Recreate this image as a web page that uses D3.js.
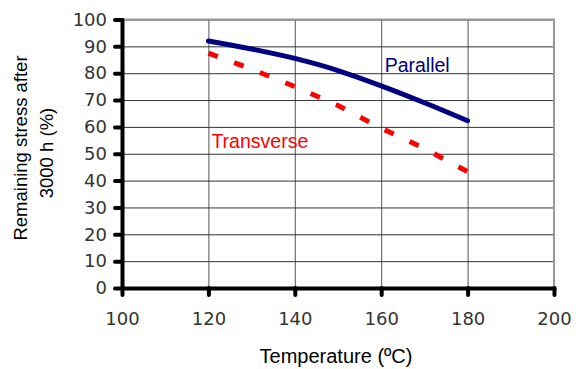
<!DOCTYPE html>
<html>
<head>
<meta charset="utf-8">
<script src="https://cdn.jsdelivr.net/npm/d3@7"></script>
<style>
  body { margin: 0; background: #fff; }
  svg { display: block; }
</style>
</head>
<body>
<div id="chart-area"></div>
<script>
// data
const temps = [120, 130, 140, 150, 160, 170, 180]
const parallel = [92, 89, 85.5, 81, 75.3, 69, 62.3]
const transverse = [87.5, 81.5, 75, 68, 59.5, 52, 43.3]
const xTicks = [100, 120, 140, 160, 180, 200]
const yTicks = [0, 10, 20, 30, 40, 50, 60, 70, 80, 90, 100]

const margin = { left: 122, right: 30, top: 19.5, bottom: 81 }
const width = 584 - margin.left - margin.right
const height = 369 - margin.top - margin.bottom

const svg = d3.select('#chart-area')
              .append('svg')
              .attr('width', 584)
              .attr('height', 369)

const g = svg.append('g')
             .attr('transform', 'translate(' + margin.left + ', ' + margin.top + ')')

// X Scale
const x = d3.scaleLinear()
            .domain([100, 200])
            .range([0, width])

// Y Scale
const y = d3.scaleLinear()
            .domain([0, 100])
            .range([height, 0])

// Grid
const xGrid = g.append('g')
               .attr('class', 'x-grid')
               .attr('transform', 'translate(0,' + height + ')')
               .call(d3.axisBottom(x).tickValues(xTicks.slice(1, -1)).tickSize(-height).tickFormat(''))
xGrid.select('.domain').remove()
xGrid.selectAll('line').attr('stroke', '#555').attr('stroke-width', 1)

const yGrid = g.append('g')
               .attr('class', 'y-grid')
               .call(d3.axisLeft(y).tickValues(yTicks.slice(1)).tickSize(-width).tickFormat(''))
yGrid.select('.domain').remove()
yGrid.selectAll('line').attr('stroke', '#333').attr('stroke-width', 1)

// plot border (top/right)
g.append('path')
 .attr('d', 'M0,' + y(100) + 'H' + x(200) + 'V' + y(0))
 .attr('fill', 'none')
 .attr('stroke', '#999')
 .attr('stroke-width', 2)

// Lines
const line = d3.line()
               .x((d, i) => x(temps[i]))
               .y(d => y(d))

g.append('path')
 .datum(transverse)
 .attr('d', line)
 .attr('fill', 'none')
 .attr('stroke', '#ff0000')
 .attr('stroke-width', 5)
 .attr('stroke-dasharray', '10,17.5')

g.append('path')
 .datum(parallel)
 .attr('d', line.curve(d3.curveCatmullRom))
 .attr('fill', 'none')
 .attr('stroke', '#000080')
 .attr('stroke-width', 5)
 .attr('stroke-linecap', 'round')
 .attr('stroke-linejoin', 'round')

// Axes
const xAxisGroup = g.append('g')
                    .attr('class', 'x-axis')
                    .attr('transform', 'translate(0,' + height + ')')
                    .call(d3.axisBottom(x).tickValues(xTicks).tickSize(7).tickSizeOuter(0).tickPadding(17))

const yAxisGroup = g.append('g')
                    .attr('class', 'y-axis')
                    .call(d3.axisLeft(y).tickValues(yTicks).tickSize(7).tickSizeOuter(0).tickPadding(8))

g.selectAll('.x-axis .domain, .y-axis .domain')
 .attr('stroke', '#000')
 .attr('stroke-width', 4)
 .attr('stroke-linecap', 'round')
g.selectAll('.x-axis .tick line, .y-axis .tick line')
 .attr('stroke', '#000')
 .attr('stroke-width', 4)
 .attr('stroke-linecap', 'round')
g.selectAll('.x-axis text, .y-axis text')
 .attr('font-family', 'DejaVu Sans')
 .attr('font-size', '18px')
 .attr('fill', '#333')

// Series labels
g.append('text')
 .attr('x', x(160.8))
 .attr('y', y(80.5))
 .attr('font-family', 'Liberation Sans, Arial')
 .attr('font-size', '19.5px')
 .attr('fill', '#000080')
 .text('Parallel')

g.append('text')
 .attr('x', x(120.7))
 .attr('y', y(52))
 .attr('font-family', 'Liberation Sans, Arial')
 .attr('font-size', '19.5px')
 .attr('fill', '#ff0000')
 .text('Transverse')

// X Label
svg.append('text')
   .attr('x', 336)
   .attr('y', 363)
   .attr('font-family', 'Liberation Sans, Arial')
   .attr('font-size', '20px')
   .attr('text-anchor', 'middle')
   .text('Temperature (ºC)')

// Y Label
svg.append('text')
   .attr('transform', 'translate(26.5, 148) rotate(-90)')
   .attr('font-family', 'Liberation Sans, Arial')
   .attr('font-size', '18.5px')
   .attr('text-anchor', 'middle')
   .text('Remaining stress after')

svg.append('text')
   .attr('transform', 'translate(53, 153) rotate(-90)')
   .attr('font-family', 'Liberation Sans, Arial')
   .attr('font-size', '18.5px')
   .attr('text-anchor', 'middle')
   .text('3000 h (%)')
</script>
</body>
</html>
